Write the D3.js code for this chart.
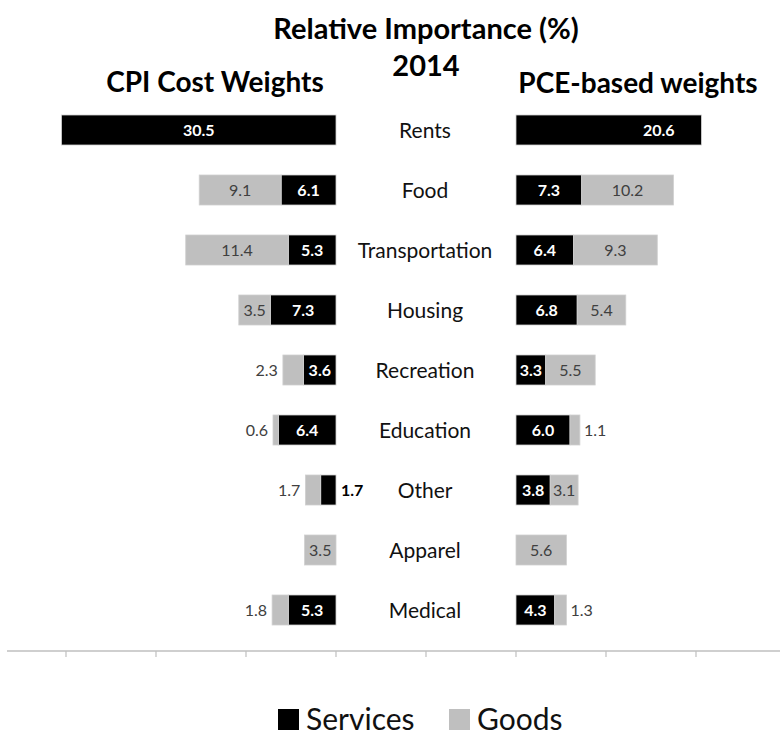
<!DOCTYPE html>
<html lang="en">
<head>
    <meta charset="UTF-8">
    <title>Relative Importance (%) 2014</title>
    <script src="https://d3js.org/d3.v7.min.js"></script>
    <style>
        body { margin: 0; background: #fff; }
        text { font-family: Lato, "Open Sans", sans-serif; }
        .title { font-weight: bold; font-size: 29px; fill: #000; text-anchor: middle; }
        .cat { font-size: 21px; fill: #111; text-anchor: middle; }
        .val { font-size: 16px; }
        .legend text { font-size: 30px; fill: #111; }
    </style>
</head>
<body>
    <svg id="chart" width="780" height="737"></svg>

    <script>
        // values (%)
        const categories = ["Rents", "Food", "Transportation", "Housing", "Recreation", "Education", "Other", "Apparel", "Medical"];
        const cpiServices = [30.5, 6.1, 5.3, 7.3, 3.6, 6.4, 1.7, 0, 5.3];
        const cpiGoods    = [0, 9.1, 11.4, 3.5, 2.3, 0.6, 1.7, 3.5, 1.8];
        const pceServices = [20.6, 7.3, 6.4, 6.8, 3.3, 6.0, 3.8, 0, 4.3];
        const pceGoods    = [0, 10.2, 9.3, 5.4, 5.5, 1.1, 3.1, 5.6, 1.3];
        const axisTicks   = [0, 10, 20, 30, 40, 50, 60, 70, 80];

        const SERVICES = "#000000";
        const GOODS = "#bfbfbf";
        const LEFT_ZERO = 30;   // CPI bars grow left from here
        const RIGHT_ZERO = 50;  // PCE bars grow right from here
        const INSIDE_MIN = 2.5; // smaller segments get their label outside

        const svg = d3.select("#chart");

        // one shared scale, 10 units between ticks
        const x = d3.scaleLinear().domain([0, 80]).range([66, 786]);
        const y = d3.scaleBand().domain(categories).range([100, 640]).paddingInner(0.5).paddingOuter(0.25);
        const bh = y.bandwidth();

        // titles
        svg.append("text").attr("class", "title").attr("x", 426).attr("y", 39).text("Relative Importance (%)");
        svg.append("text").attr("class", "title").attr("x", 426).attr("y", 76).text("2014");
        svg.append("text").attr("class", "title").attr("x", 215).attr("y", 92).style("font-size", "28px").text("CPI Cost Weights");
        svg.append("text").attr("class", "title").attr("x", 638).attr("y", 93).style("font-size", "28px").text("PCE-based weights");

        // build segments per side
        const segs = [];
        categories.forEach((c, i) => {
            // left: services next to centre, goods further out
            if (cpiServices[i] > 0) segs.push({ c, side: "L", kind: "s", v: cpiServices[i], x0: LEFT_ZERO - cpiServices[i], x1: LEFT_ZERO });
            if (cpiGoods[i] > 0) segs.push({ c, side: "L", kind: "g", v: cpiGoods[i], x0: LEFT_ZERO - cpiServices[i] - cpiGoods[i], x1: LEFT_ZERO - cpiServices[i] });
            if (pceServices[i] > 0) segs.push({ c, side: "R", kind: "s", v: pceServices[i], x0: RIGHT_ZERO, x1: RIGHT_ZERO + pceServices[i] });
            if (pceGoods[i] > 0) segs.push({ c, side: "R", kind: "g", v: pceGoods[i], x0: RIGHT_ZERO + pceServices[i], x1: RIGHT_ZERO + pceServices[i] + pceGoods[i] });
        });

        svg.selectAll(".bar")
            .data(segs)
            .join("rect")
            .attr("class", "bar")
            .attr("x", d => x(d.x0))
            .attr("y", d => y(d.c))
            .attr("width", d => x(d.x1) - x(d.x0))
            .attr("height", bh)
            .attr("fill", d => d.kind === "s" ? SERVICES : GOODS)
            .attr("stroke", "#d0d0d0")
            .attr("stroke-width", 0.8);

        // value labels
        svg.selectAll(".val")
            .data(segs)
            .join("text")
            .attr("class", "val")
            .each(function(d) {
                const t = d3.select(this);
                let px, anchor = "middle";
                if (d.v >= INSIDE_MIN) {
                    px = (x(d.x0) + x(d.x1)) / 2;
                    // the big PCE rents label sits towards the bar end
                    if (d.side === "R" && d.c === "Rents") px = x(d.x0 + d.v * 0.77);
                } else if (d.kind === "g") {
                    // goods outside, away from the centre
                    px = d.side === "L" ? x(d.x0) - 5 : x(d.x1) + 4;
                    anchor = d.side === "L" ? "end" : "start";
                } else {
                    // services outside, towards the centre
                    px = d.side === "L" ? x(d.x1) + 5 : x(d.x0) - 5;
                    anchor = d.side === "L" ? "start" : "end";
                }
                const inside = d.v >= INSIDE_MIN;
                t.attr("x", px)
                    .attr("y", y(d.c) + bh / 2 + 6)
                    .attr("text-anchor", anchor)
                    .attr("font-weight", d.kind === "s" ? "bold" : "normal")
                    .attr("fill", d.kind === "s" ? (inside ? "#fff" : "#000") : "#404040")
                    .text(d3.format(".1f")(d.v));
            });

        // category names in the middle
        svg.selectAll(".cat")
            .data(categories)
            .join("text")
            .attr("class", "cat")
            .attr("x", x(40) - 1)
            .attr("y", d => y(d) + bh / 2 + 8)
            .text(d => d);

        // bottom axis, no labels
        const axisY = 651;
        svg.append("line")
            .attr("x1", 7).attr("x2", 780)
            .attr("y1", axisY).attr("y2", axisY)
            .attr("stroke", "#bfbfbf").attr("stroke-width", 1.5);
        svg.selectAll(".tick")
            .data(axisTicks)
            .join("line")
            .attr("class", "tick")
            .attr("x1", d => x(d)).attr("x2", d => x(d))
            .attr("y1", axisY).attr("y2", axisY + 6)
            .attr("stroke", "#bfbfbf").attr("stroke-width", 1.2);

        // legend
        const legend = svg.append("g").attr("class", "legend");
        const items = [{ name: "Services", color: SERVICES, x: 278 }, { name: "Goods", color: GOODS, x: 449 }];
        items.forEach(it => {
            legend.append("rect").attr("x", it.x).attr("y", 709).attr("width", 21).attr("height", 21).attr("fill", it.color);
            legend.append("text").attr("x", it.x + 28).attr("y", 730).text(it.name);
        });
    </script>
</body>
</html>
